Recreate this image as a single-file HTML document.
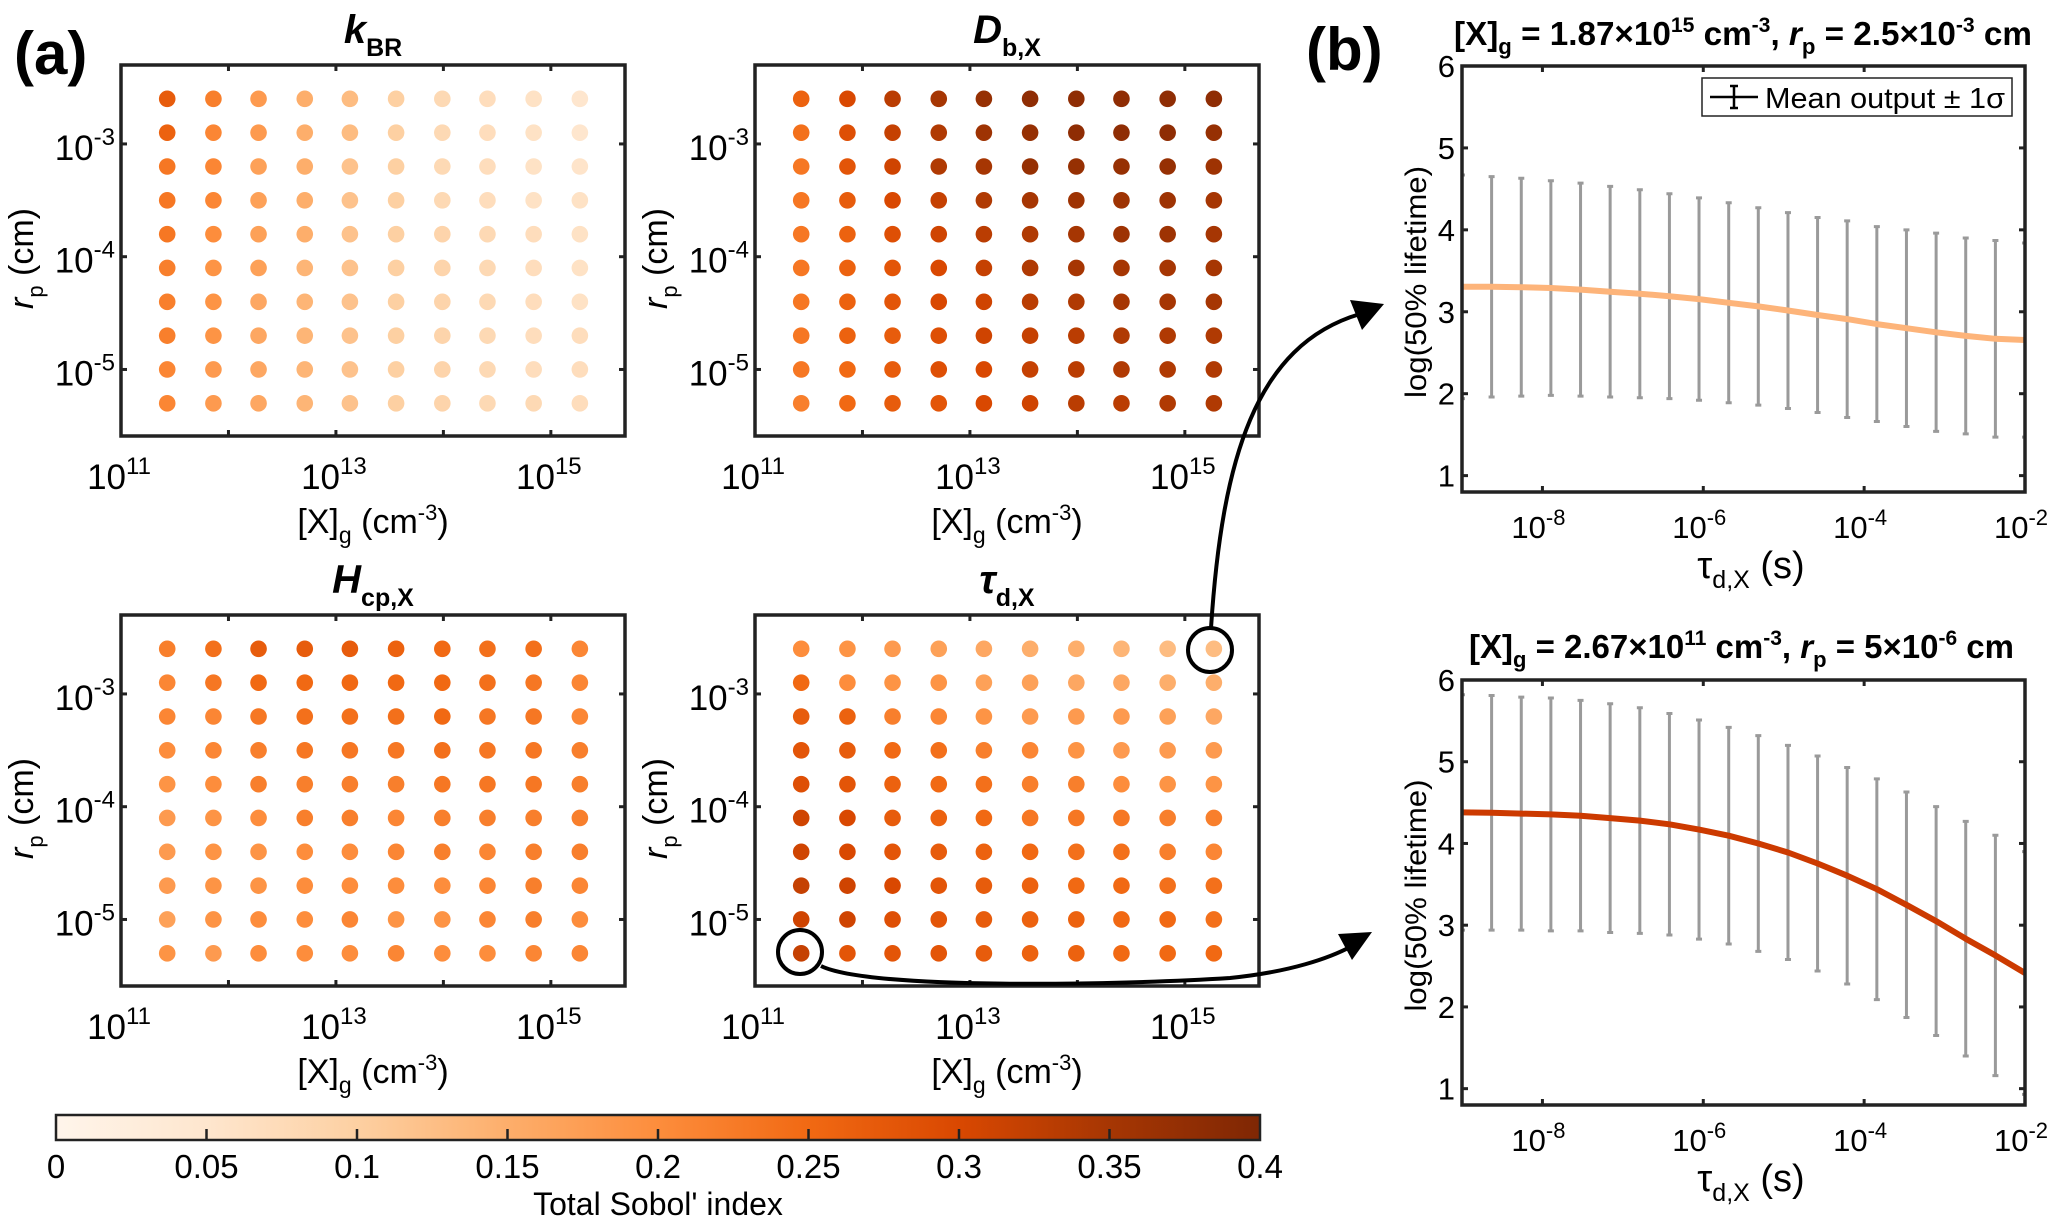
<!DOCTYPE html>
<html><head><meta charset="utf-8"><style>
html,body{margin:0;padding:0;background:#fff;}
svg{display:block;font-family:"Liberation Sans",sans-serif;}
</style></head><body>
<svg id="fig" width="2067" height="1226" viewBox="0 0 2067 1226" xmlns="http://www.w3.org/2000/svg">
<defs>
<clipPath id="clipTop"><rect x="1462" y="66" width="563" height="426"/></clipPath>
<clipPath id="clipBot"><rect x="1462" y="680" width="563" height="425"/></clipPath>
<linearGradient id="cmapGrad" x1="0" x2="1" y1="0" y2="0">
<stop offset="0" stop-color="#fff5eb"/><stop offset="0.125" stop-color="#fee6ce"/><stop offset="0.25" stop-color="#fdd0a2"/><stop offset="0.375" stop-color="#fdae6b"/><stop offset="0.5" stop-color="#fd8d3c"/><stop offset="0.625" stop-color="#f16913"/><stop offset="0.75" stop-color="#d94801"/><stop offset="0.875" stop-color="#a63603"/><stop offset="1" stop-color="#7f2704"/>
</linearGradient>
</defs>
<text x="14" y="74" font-size="60" font-weight="bold">(a)</text>
<text x="1306" y="70" font-size="60" font-weight="bold">(b)</text>
<g id="left"></g>
<g id="right"></g>
<g id="cbar"></g>
<g id="arrows">
<circle cx="1210" cy="650" r="22" fill="none" stroke="#000" stroke-width="4"/>
<circle cx="800" cy="952" r="22" fill="none" stroke="#000" stroke-width="4"/>
<path d="M1211,628 C1222,460 1255,345 1360,314" fill="none" stroke="#000" stroke-width="4"/>
<polygon points="1384,304 1350,300 1362,330" fill="#000"/>
<path d="M821,966 C870,990 1120,985 1230,978 C1290,972 1330,958 1352,946" fill="none" stroke="#000" stroke-width="4"/>
<polygon points="1372,932 1338,934 1352,960" fill="#000"/>
</g>
</svg>
<script>
// ---------- data: sensitivity grids ----------
const concLog = [11.43,11.86,12.28,12.71,13.13,13.56,13.99,14.41,14.84,15.27];
const radiusLog = [-2.60,-2.90,-3.20,-3.50,-3.80,-4.10,-4.40,-4.70,-5.00,-5.30];
const kBR = [
[.27,.22,.18,.15,.13,.10,.08,.07,.06,.05],
[.26,.21,.18,.15,.13,.10,.08,.07,.06,.05],
[.23,.21,.17,.15,.12,.10,.08,.07,.06,.055],
[.23,.21,.17,.15,.12,.10,.08,.07,.06,.06],
[.23,.20,.17,.15,.12,.10,.09,.08,.07,.06],
[.22,.19,.17,.14,.12,.10,.09,.08,.07,.06],
[.22,.19,.16,.14,.12,.10,.09,.08,.07,.06],
[.22,.19,.16,.14,.12,.10,.09,.08,.07,.07],
[.21,.18,.16,.14,.12,.10,.09,.08,.07,.07],
[.21,.18,.16,.14,.12,.10,.09,.08,.08,.07]];
const DbX = [
[.26,.30,.33,.35,.37,.38,.38,.38,.38,.38],
[.24,.29,.32,.34,.36,.37,.38,.38,.38,.37],
[.23,.28,.31,.34,.35,.37,.37,.37,.37,.36],
[.23,.27,.30,.32,.34,.35,.36,.36,.36,.35],
[.23,.26,.29,.31,.33,.34,.35,.36,.36,.35],
[.23,.26,.28,.30,.32,.34,.35,.35,.35,.35],
[.23,.26,.28,.30,.31,.33,.34,.35,.35,.35],
[.23,.26,.27,.29,.31,.32,.33,.34,.34,.34],
[.23,.25,.27,.29,.30,.32,.33,.34,.34,.34],
[.22,.25,.27,.28,.30,.31,.33,.33,.34,.34]];
const HcpX = [
[.22,.24,.27,.27,.27,.26,.25,.24,.24,.21],
[.21,.23,.25,.25,.25,.25,.25,.24,.23,.21],
[.21,.21,.23,.24,.24,.24,.25,.23,.23,.21],
[.20,.21,.22,.23,.23,.23,.24,.23,.23,.22],
[.19,.20,.22,.22,.22,.22,.23,.23,.23,.22],
[.18,.19,.20,.22,.22,.21,.22,.22,.22,.22],
[.18,.19,.19,.20,.20,.21,.22,.21,.22,.22],
[.18,.19,.19,.20,.20,.20,.20,.21,.22,.21],
[.17,.19,.20,.20,.21,.19,.19,.21,.22,.20],
[.19,.18,.20,.20,.20,.21,.20,.20,.21,.21]];
const tauX = [
[.20,.19,.18,.17,.16,.15,.15,.14,.13,.13],
[.25,.20,.19,.19,.17,.17,.16,.16,.15,.15],
[.27,.26,.22,.21,.19,.18,.18,.18,.17,.16],
[.28,.27,.25,.24,.22,.21,.19,.18,.18,.18],
[.29,.28,.26,.25,.24,.22,.22,.20,.19,.19],
[.31,.30,.27,.26,.25,.23,.23,.23,.22,.22],
[.31,.30,.28,.27,.26,.25,.24,.24,.22,.21],
[.32,.31,.30,.28,.27,.26,.25,.25,.24,.24],
[.31,.31,.29,.28,.27,.26,.26,.25,.25,.24],
[.32,.28,.28,.28,.27,.26,.26,.25,.25,.25]];
// ---------- data: panel b ----------
const tauLog = [-9,-8.632,-8.263,-7.895,-7.526,-7.158,-6.789,-6.421,-6.053,-5.684,-5.316,-4.947,-4.579,-4.211,-3.842,-3.474,-3.105,-2.737,-2.368,-2];
const meanTop = [3.305,3.305,3.30,3.29,3.27,3.245,3.22,3.19,3.155,3.11,3.065,3.015,2.96,2.91,2.85,2.80,2.75,2.705,2.67,2.655];
const sigmaTop = [1.365,1.345,1.33,1.31,1.30,1.285,1.27,1.25,1.235,1.22,1.205,1.195,1.19,1.20,1.19,1.20,1.21,1.195,1.20,1.185];
const meanBot = [4.38,4.375,4.365,4.355,4.34,4.31,4.28,4.235,4.17,4.095,4.0,3.89,3.755,3.605,3.44,3.25,3.05,2.835,2.63,2.415];
const sigmaBot = [1.44,1.435,1.425,1.425,1.41,1.40,1.38,1.355,1.34,1.325,1.32,1.31,1.315,1.325,1.35,1.38,1.40,1.435,1.47,1.485];
const cbarTicks = [0,0.05,0.1,0.15,0.2,0.25,0.3,0.35,0.4];
const cbarLabels = ["0","0.05","0.1","0.15","0.2","0.25","0.3","0.35","0.4"];

const NS="http://www.w3.org/2000/svg";
function mk(tag, attrs, parent, text){
  const e=document.createElementNS(NS,tag);
  for(const k in attrs) e.setAttribute(k,attrs[k]);
  if(text!==undefined) e.textContent=text;
  parent.appendChild(e); return e;
}
const stops=["#fff5eb","#fee6ce","#fdd0a2","#fdae6b","#fd8d3c","#f16913","#d94801","#a63603","#7f2704"];
function hex(h){return [parseInt(h.substr(1,2),16),parseInt(h.substr(3,2),16),parseInt(h.substr(5,2),16)];}
function cmap(v){
  let t=Math.max(0,Math.min(1,v/0.4))*(stops.length-1);
  let i=Math.min(stops.length-2,Math.floor(t)), f=t-i;
  const a=hex(stops[i]), b=hex(stops[i+1]);
  return "rgb("+a.map((c,j)=>Math.round(c+(b[j]-c)*f)).join(",")+")";
}

// ---------- left panels ----------
const left=document.getElementById('left');
const panels=[
 {x0:121,y0:65,data:kBR,name:'kbr',t:'k',s:'BR'},
 {x0:755,y0:65,data:DbX,name:'db-x',t:'D',s:'b,X'},
 {x0:121,y0:615,data:HcpX,name:'hcp-x',t:'H',s:'cp,X'},
 {x0:755,y0:615,data:tauX,name:'tau-d-x',t:'τ',s:'d,X'}];
const PW=504, PH=371, XMIN=11, XMAX=15.69, YTOP=-2.30, YBOT=-5.59;
panels.forEach(p=>{
  const g=mk('g',{},left);
  
  
  const sx=v=>p.x0+(v-XMIN)/(XMAX-XMIN)*PW;
  const sy=v=>p.y0+(YTOP-v)/(YTOP-YBOT)*PH;
  const tt=mk('text',{x:p.x0+PW/2,y:p.y0-22,'text-anchor':'middle','font-weight':'bold','font-size':40},g);
  
  
  mk('tspan',{'font-style':'italic'},tt,p.t);
  mk('tspan',{'font-size':25,dy:13},tt,p.s);
  p.data.forEach((row,ri)=>row.forEach((v,ci)=>{
    const c=mk('circle',{cx:sx(concLog[ci]),cy:sy(radiusLog[ri]),r:8.3,fill:cmap(v)},g);
    
    
  }));
  const box=mk('rect',{x:p.x0,y:p.y0,width:PW,height:PH,fill:'none',stroke:'#222','stroke-width':3.5},g);
  
  
  for(let d=12; d<=15; d++){
    const x=sx(d);
    mk('line',{x1:x,x2:x,y1:p.y0+PH,y2:p.y0+PH-6,stroke:'#222','stroke-width':3},g);
    mk('line',{x1:x,x2:x,y1:p.y0,y2:p.y0+6,stroke:'#222','stroke-width':3},g);
  }
  [11,13,15].forEach(d=>{
    const t=mk('text',{x:sx(d)-2,y:p.y0+PH+53,'text-anchor':'middle','font-size':35},g);
    
    
    mk('tspan',{},t,'10');
    mk('tspan',{'font-size':24,dy:-15},t,String(d));
  });
  [-3,-4,-5].forEach(d=>{
    const y=sy(d);
    mk('line',{x1:p.x0,x2:p.x0+6,y1:y,y2:y,stroke:'#222','stroke-width':3},g);
    mk('line',{x1:p.x0+PW,x2:p.x0+PW-6,y1:y,y2:y,stroke:'#222','stroke-width':3},g);
    const t=mk('text',{x:p.x0-6,y:y+16,'text-anchor':'end','font-size':35},g);
    
    
    mk('tspan',{},t,'10');
    mk('tspan',{'font-size':24,dy:-15},t,String(d));
  });
  const xl=mk('text',{x:p.x0+PW/2,y:p.y0+PH+97,'text-anchor':'middle','font-size':34},g);
  
  
  mk('tspan',{},xl,'[X]');
  mk('tspan',{'font-size':23,dy:10},xl,'g');
  mk('tspan',{dy:-10},xl,' (cm');
  mk('tspan',{'font-size':22,dy:-13},xl,'-3');
  mk('tspan',{dy:13},xl,')');
  const cx=p.x0-88, cy=p.y0+PH/2+8;
  const yl=mk('text',{x:cx,y:cy,'text-anchor':'middle','font-size':34,transform:`rotate(-90 ${cx} ${cy})`},g);
  
  
  mk('tspan',{'font-style':'italic'},yl,'r');
  mk('tspan',{'font-size':22,dy:10},yl,'p');
  mk('tspan',{dy:-10},yl,' (cm)');
});

// ---------- colorbar ----------
const cb=document.getElementById('cbar');
const CB0=56, CB1=1260, CBY=1115, CBH=25;
const cbx=v=>CB0+v/0.4*(CB1-CB0);
const cbr=mk('rect',{x:CB0,y:CBY,width:CB1-CB0,height:CBH,fill:'url(#cmapGrad)',stroke:'#222','stroke-width':2.5},cb);


cbarTicks.forEach((v,i)=>{
  const x=cbx(v);
  if(i>0&&i<cbarTicks.length-1) mk('line',{x1:x,x2:x,y1:CBY+CBH,y2:CBY+CBH-11,stroke:'#222','stroke-width':2.5},cb);
  const t=mk('text',{x:x,y:CBY+CBH+38,'text-anchor':'middle','font-size':33},cb,cbarLabels[i]);
  
  
});
const cbt=mk('text',{x:(CB0+CB1)/2,y:1215,'text-anchor':'middle','font-size':32},cb,"Total Sobol' index");



// ---------- right panels ----------
const right=document.getElementById('right');
const rpanels=[
 {y0:66,h:426,mean:meanTop,sig:sigmaTop,color:'#fdb47a',clip:'clipTop',name:'top',
  title:[['[X]',{}],['g',{'font-size':22,dy:9}],[' = 1.87×10',{dy:-9}],['15',{'font-size':21,dy:-13}],[' cm',{dy:13}],['-3',{'font-size':21,dy:-13}],[', ',{dy:13}],['r',{'font-style':'italic'}],['p',{'font-size':22,dy:9}],[' = 2.5×10',{dy:-9}],['-3',{'font-size':21,dy:-13}],[' cm',{dy:13}]],
  tx:1454,ty:45,tl:578},
 {y0:680,h:425,mean:meanBot,sig:sigmaBot,color:'#cc3a00',clip:'clipBot',name:'bottom',
  title:[['[X]',{}],['g',{'font-size':22,dy:9}],[' = 2.67×10',{dy:-9}],['11',{'font-size':21,dy:-13}],[' cm',{dy:13}],['-3',{'font-size':21,dy:-13}],[', ',{dy:13}],['r',{'font-style':'italic'}],['p',{'font-size':22,dy:9}],[' = 5×10',{dy:-9}],['-6',{'font-size':21,dy:-13}],[' cm',{dy:13}]],
  tx:1469,ty:658,tl:545}];
const RX0=1462, RW=563, LXMIN=-9, LXMAX=-2, YMIN=0.8, YMAX=6;
rpanels.forEach(p=>{
  const g=mk('g',{},right);
  
  
  const sx=v=>RX0+(v-LXMIN)/(LXMAX-LXMIN)*RW;
  const sy=v=>p.y0+(YMAX-v)/(YMAX-YMIN)*p.h;
  const tt=mk('text',{x:p.tx,y:p.ty,'font-size':33,'font-weight':'bold',textLength:p.tl,lengthAdjust:'spacingAndGlyphs'},g);
  
  
  p.title.forEach(([s,a])=>mk('tspan',a,tt,s));
  const cg=mk('g',{'clip-path':`url(#${p.clip})`},g);
  tauLog.forEach((t,i)=>{
    const x=sx(t), y1=sy(p.mean[i]+p.sig[i]), y2=sy(p.mean[i]-p.sig[i]);
    const eb=mk('path',{d:`M${x},${y1}V${y2}M${x-3},${y1}H${x+3}M${x-3},${y2}H${x+3}`,stroke:'#9a9a9a','stroke-width':3,fill:'none'},cg);
    
    
  });
  const pts=tauLog.map((t,i)=>sx(t).toFixed(1)+','+sy(p.mean[i]).toFixed(1)).join(' ');
  const ln=mk('polyline',{points:pts,fill:'none',stroke:p.color,'stroke-width':6,'stroke-linejoin':'round'},cg);
  
  
  const box=mk('rect',{x:RX0,y:p.y0,width:RW,height:p.h,fill:'none',stroke:'#222','stroke-width':3.5},g);
  
  
  [1,2,3,4,5,6].forEach(v=>{
    const y=sy(v);
    mk('line',{x1:RX0,x2:RX0+6,y1:y,y2:y,stroke:'#222','stroke-width':3},g);
    mk('line',{x1:RX0+RW,x2:RX0+RW-6,y1:y,y2:y,stroke:'#222','stroke-width':3},g);
    const t=mk('text',{x:RX0-7,y:y+11,'text-anchor':'end','font-size':31},g,String(v));
    
    
  });
  [-8,-6,-4,-2].forEach(d=>{
    const x=sx(d);
    mk('line',{x1:x,x2:x,y1:p.y0+p.h,y2:p.y0+p.h-6,stroke:'#222','stroke-width':3},g);
    mk('line',{x1:x,x2:x,y1:p.y0,y2:p.y0+6,stroke:'#222','stroke-width':3},g);
    const t=mk('text',{x:x-4,y:p.y0+p.h+46,'text-anchor':'middle','font-size':31},g);
    
    
    mk('tspan',{},t,'10');
    mk('tspan',{'font-size':22,dy:-13},t,String(d));
  });
  const xl=mk('text',{x:1751,y:p.y0+p.h+86,'text-anchor':'middle','font-size':38},g);
  
  
  mk('tspan',{},xl,'τ');
  mk('tspan',{'font-size':25,dy:10},xl,'d,X');
  mk('tspan',{dy:-10},xl,' (s)');
  const cx=1426, cy=p.y0+p.h/2+3;
  const yl=mk('text',{x:cx,y:cy,'text-anchor':'middle','font-size':30,textLength:232,lengthAdjust:'spacingAndGlyphs',transform:`rotate(-90 ${cx} ${cy})`},g,'log(50% lifetime)');
  
  
});
// legend
const lg=mk('g',{},right);


mk('rect',{x:1702,y:78,width:310,height:38,fill:'#fff',stroke:'#222','stroke-width':1.5},lg);
mk('path',{d:'M1710,97H1758M1734,86V108M1730,86H1738M1730,108H1738',stroke:'#000','stroke-width':2.5,fill:'none'},lg);
const lt=mk('text',{x:1765,y:108,'font-size':29,textLength:240,lengthAdjust:'spacingAndGlyphs'},lg,'Mean output ± 1σ');


</script>
</body></html>
